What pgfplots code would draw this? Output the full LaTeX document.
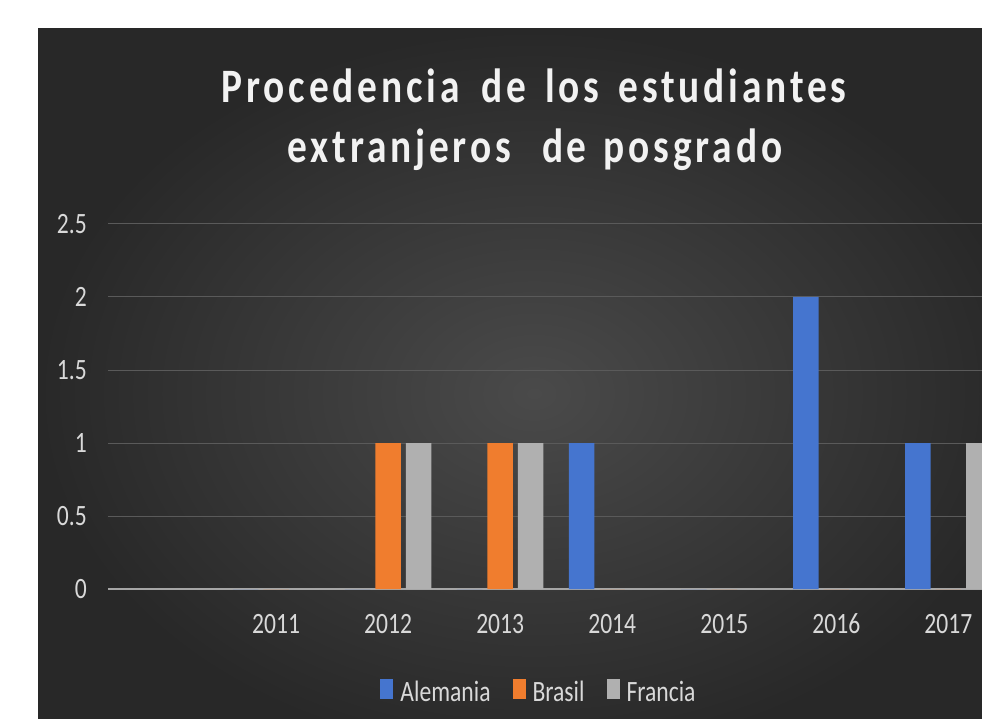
\documentclass[border=0pt]{standalone}
\usepackage{fontspec}
\usepackage{pgfplots}
\usepackage{pgfplotstable}
\pgfplotsset{compat=1.18}
\setmainfont{Carlito}
\newfontfamily\labelfont[FakeStretch=0.8]{Carlito}
\newfontfamily\titlefont[FakeStretch=0.82,LetterSpace=8]{Carlito}

\definecolor{bgin}{HTML}{4A4A4A}
\definecolor{bgout}{HTML}{282828}
\definecolor{gridc}{HTML}{5A5A5A}
\definecolor{zeroc}{HTML}{A6A6A6}
\definecolor{labc}{HTML}{D9D9D9}
\definecolor{titlec}{HTML}{F2F2F2}
\definecolor{alem}{HTML}{4575CF}
\definecolor{bras}{HTML}{F07D2E}
\definecolor{fran}{HTML}{B0B0B0}

% año, Alemania, Brasil, Francia
\pgfplotstableread{
x year alemania brasil francia
0 2011 0 0 0
1 2012 0 1 1
2 2013 0 1 1
3 2014 1 0 0
4 2015 0 0 0
5 2016 2 0 0
6 2017 1 0 1
}\datos

\newcommand\lineone{Procedencia\hspace{22pt}de\hspace{19pt}los\hspace{19pt}estudiantes}
\newcommand\linetwo{extranjeros\hspace{31pt}de\hspace{17pt}posgrado}

\begin{document}
\begin{tikzpicture}
\useasboundingbox (0,0) rectangle (982pt,718pt);
\fill[white] (0,0) rectangle (982pt,718pt);
\begin{scope}
  \clip (38pt,0pt) rectangle (982pt,689pt);
  \shade[inner color=bgin, outer color=bgout] (38pt,-40pt) rectangle (1030pt,689pt);
\end{scope}

\begin{axis}[
  at={(108pt,129pt)}, anchor=south west,
  scale only axis, width=874pt, height=365pt,
  ybar, bar width=25.5pt,
  xmin=-1.5, xmax=6.3, ymin=0, ymax=2.5,
  xtick={0,1,2,3,4,5,6},
  xticklabels={2011,2012,2013,2014,2015,2016,2017},
  ytick={0,0.5,1,1.5,2,2.5},
  yticklabels={0,0.5,1,1.5,2,2.5},
  major tick length=0pt,
  ymajorgrids, grid style={gridc, line width=1pt},
  axis x line*=bottom, axis y line*=left,
  axis line style={-},
  x axis line style={zeroc, line width=1.5pt},
  y axis line style={draw=none},
  tick label style={font=\labelfont\fontsize{29.5}{30}\selectfont, text=labc},
  xticklabel style={anchor=base, inner sep=0pt, yshift=-44pt},
  yticklabel style={anchor=east, inner sep=0pt, xshift=-21pt},
  legend style={at={(0.492,-0.2795)}, anchor=center, draw=none, fill=none,
    legend columns=-1, font=\labelfont\fontsize{29.5}{30}\selectfont, text=labc,
    /tikz/every odd column/.append style={column sep=7pt},
    /tikz/every even column/.append style={column sep=22pt},
    nodes={inner sep=0pt}},
  legend image code/.code={\fill[#1] (0pt,-7pt) rectangle (13pt,13pt);},
]
\addplot[fill=alem, draw=none, bar shift=-30.5pt] table[x=x, y=alemania] {\datos};
\addplot[fill=bras, draw=none, bar shift=0pt] table[x=x, y=brasil] {\datos};
\addplot[fill=fran, draw=none, bar shift=30.5pt] table[x=x, y=francia] {\datos};
\legend{Alemania, Brasil, Francia}
\end{axis}

\node[anchor=base, text=titlec] at (534pt,615pt)
  {\titlefont\bfseries\fontsize{48}{48}\selectfont\lineone};
\node[anchor=base, text=titlec] at (535pt,555pt)
  {\titlefont\bfseries\fontsize{48}{48}\selectfont\linetwo};
\end{tikzpicture}
\end{document}
